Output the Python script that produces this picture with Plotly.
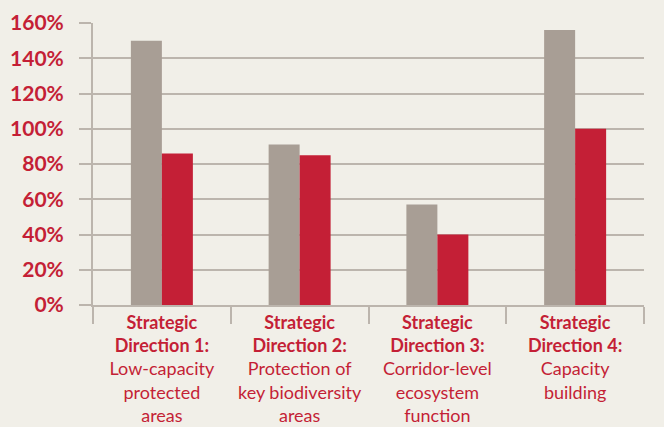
import plotly.graph_objects as go

categories = [
    "<b>Strategic</b><br><b>Direction 1:</b><br>Low-capacity<br>protected<br>areas",
    "<b>Strategic</b><br><b>Direction 2:</b><br>Protection of<br>key biodiversity<br>areas",
    "<b>Strategic</b><br><b>Direction 3:</b><br>Corridor-level<br>ecosystem<br>function",
    "<b>Strategic</b><br><b>Direction 4:</b><br>Capacity<br>building",
]
series_gray = [150, 91, 57, 156]
series_red = [86, 85, 40, 100]
y_ticks = [0, 20, 40, 60, 80, 100, 120, 140, 160]

BG = "#f1efe8"
GRAY = "#a89e95"
RED = "#c41f36"
GRID = "#bcb5ad"
FONT = "Lato, Open Sans, sans-serif"

fig = go.Figure()
fig.add_trace(go.Bar(x=categories, y=series_gray, marker=dict(color=GRAY, line=dict(width=0))))
fig.add_trace(go.Bar(x=categories, y=series_red, marker=dict(color=RED, line=dict(width=0))))

fig.update_layout(
    width=664,
    height=427,
    margin=dict(l=93, r=20, t=23, b=122),
    paper_bgcolor=BG,
    plot_bgcolor=BG,
    barmode="group",
    bargap=0.55,
    bargroupgap=0,
    showlegend=False,
    font=dict(family=FONT, color=RED),
)
fig.update_yaxes(
    range=[0, 160],
    tickvals=y_ticks,
    ticktext=[f"{v}%" for v in y_ticks],
    tickfont=dict(size=21, color=RED, family=FONT, weight="bold"),
    showgrid=True,
    gridcolor=GRID,
    gridwidth=2,
    ticks="outside",
    ticklen=12,
    tickcolor=GRID,
    tickwidth=2,
    showline=True,
    linecolor=GRID,
    linewidth=2,
    zeroline=False,
    ticklabelstandoff=11,
    automargin=False,
)
fig.update_xaxes(
    tickfont=dict(size=18, color=RED, family=FONT),
    ticks="outside",
    tickson="boundaries",
    ticklen=17,
    tickcolor=GRID,
    tickwidth=2,
    showline=True,
    linecolor=GRID,
    linewidth=2,
    showgrid=False,
    tickangle=0,
    automargin=False,
)

# drop the default page margin so the figure fills the window
fig.write_html(
    "out.html",
    config={"displayModeBar": False},
    post_script="document.body.style.margin='0';document.body.style.background='#f1efe8';",
)
